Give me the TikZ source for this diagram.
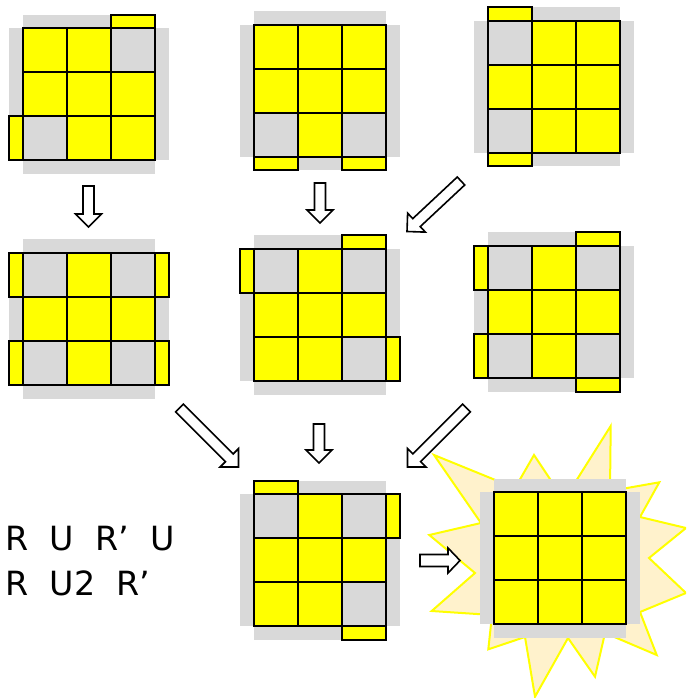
\documentclass[tikz,border=0pt]{standalone}
\usepackage{fontspec}
\setmainfont{DejaVu Sans}
\usetikzlibrary{calc}
\definecolor{cy}{HTML}{FFFF00}
\definecolor{cg}{HTML}{D9D9D9}
\definecolor{starfill}{HTML}{FFF2CC}
\tikzset{
  cell/.style={draw=black, line width=1.5pt},
  Y/.style={cell, fill=cy},
  G/.style={cell, fill=cg},
  sticker/.style={draw=black, line width=1.5pt, fill=cy},
  backing/.style={fill=cg, draw=none},
  barrow/.style={draw=black, line width=1.2pt, fill=white, line join=miter},
  starburst/.style={draw=cy, line width=1.5pt, fill=starfill, line join=miter},
  algtext/.style={anchor=base west, inner sep=0pt, font=\fontsize{25}{30}\selectfont},
}
% cube face: #1 name, #2 grid top-left, #3 nine cell styles, #4 stickers
\newcommand{\cubeface}[4]{%
  \begin{scope}[shift={#2}]
    \fill[backing] (0,-13.5) rectangle (132,145.5);
    \fill[backing] (-14,0) rectangle (146,132);
    \foreach \c [count=\i from 0] in {#3} {
      \pgfmathtruncatemacro{\col}{mod(\i,3)}
      \pgfmathtruncatemacro{\row}{div(\i,3)}
      \draw[\c] (\col*44,\row*44) rectangle ++(44,44);
    }
    #4
    \coordinate (#1) at (66,66);
  \end{scope}}
\newcommand{\stT}[1]{\draw[sticker] (#1*44,-13.5) rectangle ++(44,13.5);}
\newcommand{\stB}[1]{\draw[sticker] (#1*44,132) rectangle ++(44,13.5);}
\newcommand{\stL}[1]{\draw[sticker] (-14,#1*44) rectangle ++(14,44);}
\newcommand{\stR}[1]{\draw[sticker] (132,#1*44) rectangle ++(14,44);}
% block arrow: #1 tail, #2 tip, #3 shaft half width, #4 head half width, #5 head length
\newcommand{\blockarrow}[5]{%
  \coordinate (bah) at ($(#2)!#5!(#1)$);
  \draw[barrow] ($(#1)!#3!90:(#2)$) -- ($(bah)!#3!90:(#2)$) -- ($(bah)!#4!90:(#2)$)
    -- (#2) -- ($(bah)!#4!-90:(#2)$) -- ($(bah)!#3!-90:(#2)$) -- ($(#1)!#3!-90:(#2)$) -- cycle;}
\begin{document}
\begin{tikzpicture}[x=0.75pt,y=-0.75pt]
\useasboundingbox (0,0) rectangle (686,698);
\clip (0,0) rectangle (686,698);

% starburst behind the solved face
\draw[starburst] (434,455) -- (515,488) -- (534,455) -- (564,500) -- (610.7,426) -- (610,491)
  -- (659.3,482.3) -- (640,517) -- (686,528) -- (649,558) -- (686,593) -- (640,612)
  -- (656.7,655) -- (605,633) -- (595,676.7) -- (568,638) -- (535,696.7) -- (525,637)
  -- (488.3,649.3) -- (492,615) -- (431.7,611) -- (475,573) -- (429.3,535) -- (481,523) -- cycle;

\cubeface{c1}{(23,28.5)}{Y,Y,G,Y,Y,Y,G,Y,Y}{\stT{2}\stL{2}}
\cubeface{c2}{(254,25)}{Y,Y,Y,Y,Y,Y,G,Y,G}{\stB{0}\stB{2}}
\cubeface{c3}{(488,21)}{G,Y,Y,Y,Y,Y,G,Y,Y}{\stT{0}\stB{0}}
\cubeface{c4}{(23,253)}{G,Y,G,Y,Y,Y,G,Y,G}{\stL{0}\stL{2}\stR{0}\stR{2}}
\cubeface{c5}{(254,249)}{G,Y,G,Y,Y,Y,Y,Y,G}{\stT{2}\stL{0}\stR{2}}
\cubeface{c6}{(488,246)}{G,Y,G,Y,Y,Y,G,Y,G}{\stT{2}\stL{0}\stL{2}\stB{2}}
\cubeface{c7}{(254,494)}{G,Y,G,Y,Y,Y,Y,Y,G}{\stT{0}\stR{0}\stB{2}}
\cubeface{c8}{(494,492)}{Y,Y,Y,Y,Y,Y,Y,Y,Y}{}

% arrow end points
\coordinate (a1t) at (88.5,186);  \coordinate (a1h) at (88.5,227);
\coordinate (a2t) at (320,183);   \coordinate (a2h) at (320,223);
\coordinate (a3t) at (461,181);   \coordinate (a3h) at (407,231.5);
\coordinate (a4t) at (179.5,408); \coordinate (a4h) at (238.5,467);
\coordinate (a5t) at (319,424);   \coordinate (a5h) at (319,463);
\coordinate (a6t) at (466.5,408); \coordinate (a6h) at (407.5,467);
\coordinate (a7t) at (420,560.5); \coordinate (a7h) at (460,560.5);

\blockarrow{a1t}{a1h}{4.1pt}{9.75pt}{9.75pt}
\blockarrow{a2t}{a2h}{4.1pt}{9.75pt}{9.75pt}
\blockarrow{a3t}{a3h}{4.1pt}{9.75pt}{9.75pt}
\blockarrow{a4t}{a4h}{4.1pt}{9.75pt}{9.75pt}
\blockarrow{a5t}{a5h}{4.1pt}{9.75pt}{9.75pt}
\blockarrow{a6t}{a6h}{4.1pt}{9.75pt}{9.75pt}
\blockarrow{a7t}{a7h}{4.5pt}{9.4pt}{9pt}

\node[algtext] (alg1) at (5,550) {R~~U~~R’~~U};
\node[algtext] (alg2) at (5,595) {R~~U2~~R’};
\end{tikzpicture}
\end{document}
